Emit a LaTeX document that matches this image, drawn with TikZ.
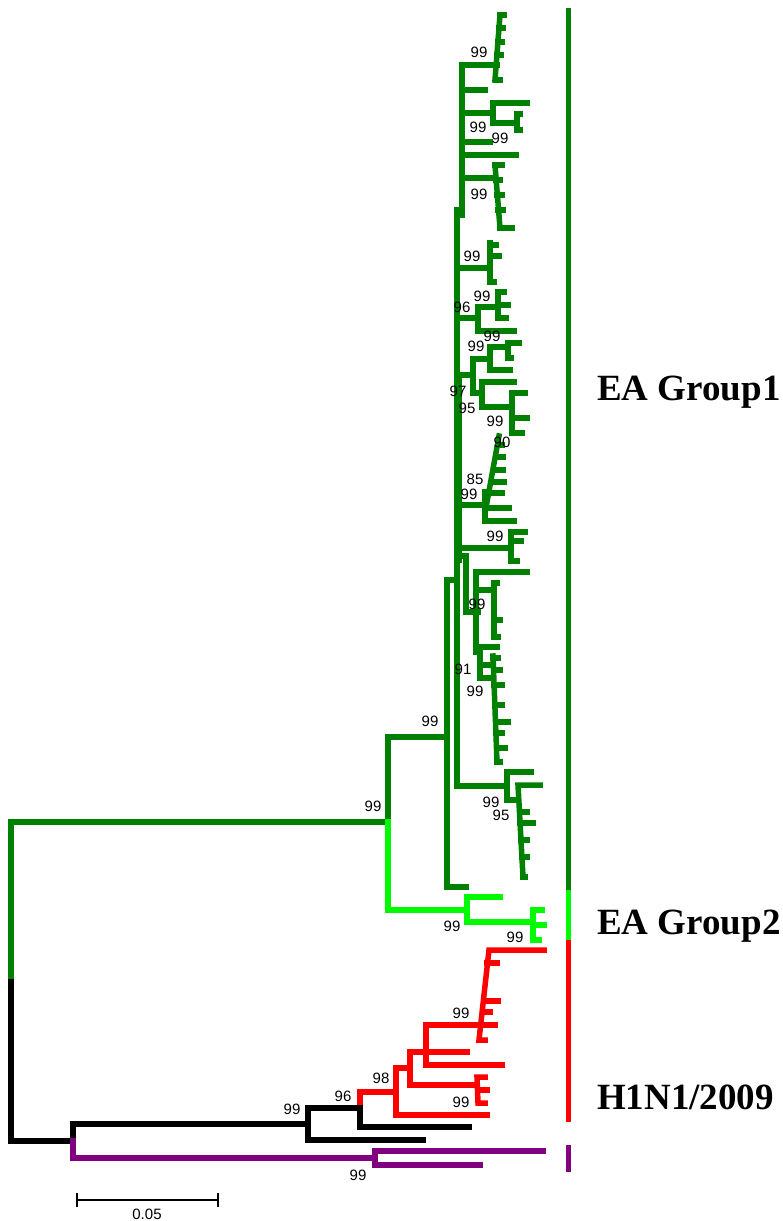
\documentclass[tikz,border=0pt]{standalone}
\usepackage{fontspec}
\setmainfont{Liberation Serif}
\newfontfamily\labelfont{Liberation Sans}

\definecolor{eagreen}{RGB}{0,128,0}
\definecolor{eagreentwo}{RGB}{0,250,0}
\definecolor{pdmred}{RGB}{255,0,0}
\definecolor{swpurple}{RGB}{128,0,128}

\begin{document}
\begin{tikzpicture}[x=1pt, y=-1pt,
        branch/.style={line width=5.5pt, line cap=rect, line join=miter},
        eaone/.style={branch, draw=eagreen},
        eatwo/.style={branch, draw=eagreentwo},
        pdm/.style={branch, draw=pdmred},
        outgroup/.style={branch, draw=black},
        swine/.style={branch, draw=swpurple},
        bootstrap/.style={font=\labelfont\fontsize{15}{17}\selectfont, inner sep=0pt},
        clade/.style={font=\bfseries\fontsize{37}{40}\selectfont, anchor=base west, inner sep=0pt},
        cladebar/.style={line width=5pt},
        scalebar/.style={line width=1.2pt}
    ]
    \useasboundingbox (0,0) rectangle (782,1221);

    % Root and deep branches
    \draw[eaone] (11,982) -- (11,822) -- (388,822) -- (388,737) -- (447,737);
    \draw[outgroup] (11,982) -- (11,1141) -- (73,1141) -- (73,1124) -- (308,1124);
    \draw[swine] (73,1141) -- (73,1158) -- (375,1158);
    \draw[swine] (543,1151) -- (375,1151) -- (375,1165) -- (480,1165);

    % EA group 2
    \draw[eatwo] (388,822) -- (388,910) -- (467,910);
    \draw[eatwo] (500,897) -- (467,897) -- (467,922) -- (533,922);
    \draw[eatwo] (542,910) -- (533,910) -- (533,940) -- (539,940);
    \draw[eatwo] (533,925) -- (544,925);

    % EA group 1 backbone
    \draw[eaone] (457,580) -- (447,580) -- (447,887) -- (466,887);
    \draw[eaone] (462,65) -- (462,215);
    \draw[eaone] (457,210) -- (457,786) -- (507,786);
    \draw[eaone] (459,375) -- (459,560);

    % EA group 1 clades, top to bottom
    \draw[eaone] (462,65) -- (497,65);
    \draw[eaone] (500,15) -- (495,80);
    \draw[eaone] (500,15) -- (504,15) (499,28) -- (503,28) (498,42) -- (502,42)
        (497,55) -- (501,55) (496,80) -- (500,80);
    \draw[eaone] (462,90) -- (485,90);
    \draw[eaone] (462,113) -- (493,113);
    \draw[eaone] (527,103) -- (493,103) -- (493,123) -- (517,123);
    \draw[eaone] (520,114) -- (517,114) -- (517,130) -- (520,130);
    \draw[eaone] (462,142) -- (490,142);
    \draw[eaone] (462,155) -- (516,155);
    \draw[eaone] (462,178) -- (495,178);
    \draw[eaone] (495,165) -- (500,228);
    \draw[eaone] (495,165) -- (502,165) (496,180) -- (500,180) (497,195) -- (502,195)
        (498,210) -- (503,210) (500,228) -- (512,228);
    \draw[eaone] (457,268) -- (490,268);
    \draw[eaone] (490,243) -- (490,282);
    \draw[eaone] (490,245) -- (496,245) (490,256) -- (499,256) (490,282) -- (494,282);
    \draw[eaone] (457,318) -- (478,318);
    \draw[eaone] (498,307) -- (478,307) -- (478,331) -- (514,331);
    \draw[eaone] (498,292) -- (498,318);
    \draw[eaone] (498,292) -- (504,292) (498,305) -- (508,305) (498,318) -- (506,318);
    \draw[eaone] (457,375) -- (473,375);
    \draw[eaone] (490,359) -- (473,359) -- (473,393) -- (482,393);
    \draw[eaone] (507,347) -- (490,347) -- (490,370) -- (510,370);
    \draw[eaone] (519,343) -- (508,343) -- (508,358) -- (511,358);
    \draw[eaone] (514,382) -- (482,382) -- (482,407) -- (512,407);
    \draw[eaone] (525,393) -- (512,393) -- (512,433) -- (522,433);
    \draw[eaone] (512,418) -- (527,418);
    \draw[eaone] (499,436) -- (487,502);
    \draw[eaone] (498,445) -- (502,445) (496,457) -- (503,457) (494,470) -- (503,470)
        (492,482) -- (504,482) (490,493) -- (502,493);
    \draw[eaone] (457,505) -- (485,505);
    \draw[eaone] (487,492) -- (485,492) -- (485,521) -- (514,521);
    \draw[eaone] (485,508) -- (509,508);
    \draw[eaone] (457,548) -- (510,548);
    \draw[eaone] (525,532) -- (511,532) -- (511,561) -- (517,561);
    \draw[eaone] (511,541) -- (521,541);
    \draw[eaone] (457,556) -- (466,556) -- (466,612) -- (478,612);
    \draw[eaone] (527,572) -- (476,572) -- (476,652) -- (480,652);
    \draw[eaone] (476,590) -- (494,590);
    \draw[eaone] (494,583) -- (494,637);
    \draw[eaone] (494,583) -- (497,583) (494,620) -- (500,620) (494,637) -- (498,637);
    \draw[eaone] (476,647) -- (497,647);
    \draw[eaone] (480,652) -- (480,678) -- (493,678);
    \draw[eaone] (480,665) -- (493,665);
    \draw[eaone] (493,656) -- (497,762);
    \draw[eaone] (493,658) -- (498,658) (494,670) -- (500,670) (494,685) -- (502,685)
        (495,705) -- (502,705) (496,722) -- (508,722) (496,733) -- (502,733)
        (497,748) -- (505,748) (497,762) -- (500,762);
    \draw[eaone] (531,772) -- (507,772) -- (507,800) -- (518,800);
    \draw[eaone] (540,785) -- (518,785) -- (523,877);
    \draw[eaone] (520,812) -- (527,812) (520,823) -- (533,823) (521,840) -- (527,840)
        (522,857) -- (527,857) (523,877) -- (525,877);

    % H1N1/2009 clade
    \draw[pdm] (360,1108) -- (360,1092) -- (396,1092);
    \draw[pdm] (410,1068) -- (396,1068) -- (396,1115) -- (487,1115);
    \draw[pdm] (426,1052) -- (410,1052) -- (410,1085) -- (477,1085);
    \draw[pdm] (495,1025) -- (426,1025) -- (426,1065) -- (502,1065);
    \draw[pdm] (426,1052) -- (467,1052);
    \draw[pdm] (544,950) -- (489,950) -- (479,1040) -- (485,1040);
    \draw[pdm] (487,963) -- (497,963) (484,1001) -- (498,1001) (483,1012) -- (490,1012);
    \draw[pdm] (485,1077) -- (477,1077) -- (478,1103) -- (485,1103);
    \draw[pdm] (478,1090) -- (487,1090);

    % Other lineages
    \draw[outgroup] (360,1108) -- (308,1108) -- (308,1140) -- (423,1140);
    \draw[outgroup] (360,1108) -- (360,1127) -- (469,1127);

    % Bootstrap values
    \node[bootstrap] (b1) at (479,52) {99};
    \node[bootstrap] (b2) at (478,127) {99};
    \node[bootstrap] (b3) at (500,138) {99};
    \node[bootstrap] (b4) at (479,194) {99};
    \node[bootstrap] (b5) at (472,256) {99};
    \node[bootstrap] (b6) at (482,296) {99};
    \node[bootstrap] (b7) at (462,307) {96};
    \node[bootstrap] (b8) at (492,336) {99};
    \node[bootstrap] (b9) at (476,346) {99};
    \node[bootstrap] (b10) at (458,391) {97};
    \node[bootstrap] (b11) at (467,408) {95};
    \node[bootstrap] (b12) at (495,421) {99};
    \node[bootstrap] (b13) at (502,442) {90};
    \node[bootstrap] (b14) at (475,479.5) {85};
    \node[bootstrap] (b15) at (469,494.5) {99};
    \node[bootstrap] (b16) at (495,536) {99};
    \node[bootstrap] (b17) at (477,604) {99};
    \node[bootstrap] (b18) at (463,669) {91};
    \node[bootstrap] (b19) at (475,691) {99};
    \node[bootstrap] (b20) at (430,721) {99};
    \node[bootstrap] (b21) at (491,802) {99};
    \node[bootstrap] (b22) at (501,815) {95};
    \node[bootstrap] (b23) at (373,806) {99};
    \node[bootstrap] (b24) at (452,926) {99};
    \node[bootstrap] (b25) at (515,937) {99};
    \node[bootstrap] (b26) at (461,1013) {99};
    \node[bootstrap] (b27) at (381,1078) {98};
    \node[bootstrap] (b28) at (343,1096) {96};
    \node[bootstrap] (b29) at (461,1102) {99};
    \node[bootstrap] (b30) at (292,1109) {99};
    \node[bootstrap] (b31) at (358,1175) {99};

    % Clade bars and names
    \draw[cladebar, eagreen] (568,8) -- (568,890);
    \draw[cladebar, eagreentwo] (568,890) -- (568,940);
    \draw[cladebar, pdmred] (568,940) -- (568,1122);
    \draw[cladebar, swpurple] (568,1145) -- (568,1172);
    \node[clade] (ea1) at (597,400) {EA Group1};
    \node[clade] (ea2) at (597,934) {EA Group2};
    \node[clade] (pdm09) at (597,1109) {H1N1/2009};

    % Scale bar
    \coordinate (sbl) at (77,1200);
    \coordinate (sbr) at (218,1200);
    \draw[scalebar] (sbl) -- (sbr);
    \draw[scalebar] (sbl) ++(0,-7) -- ++(0,14);
    \draw[scalebar] (sbr) ++(0,-7) -- ++(0,14);
    \node[bootstrap] (scale) at (147,1214) {0.05};

\end{tikzpicture}
\end{document}
